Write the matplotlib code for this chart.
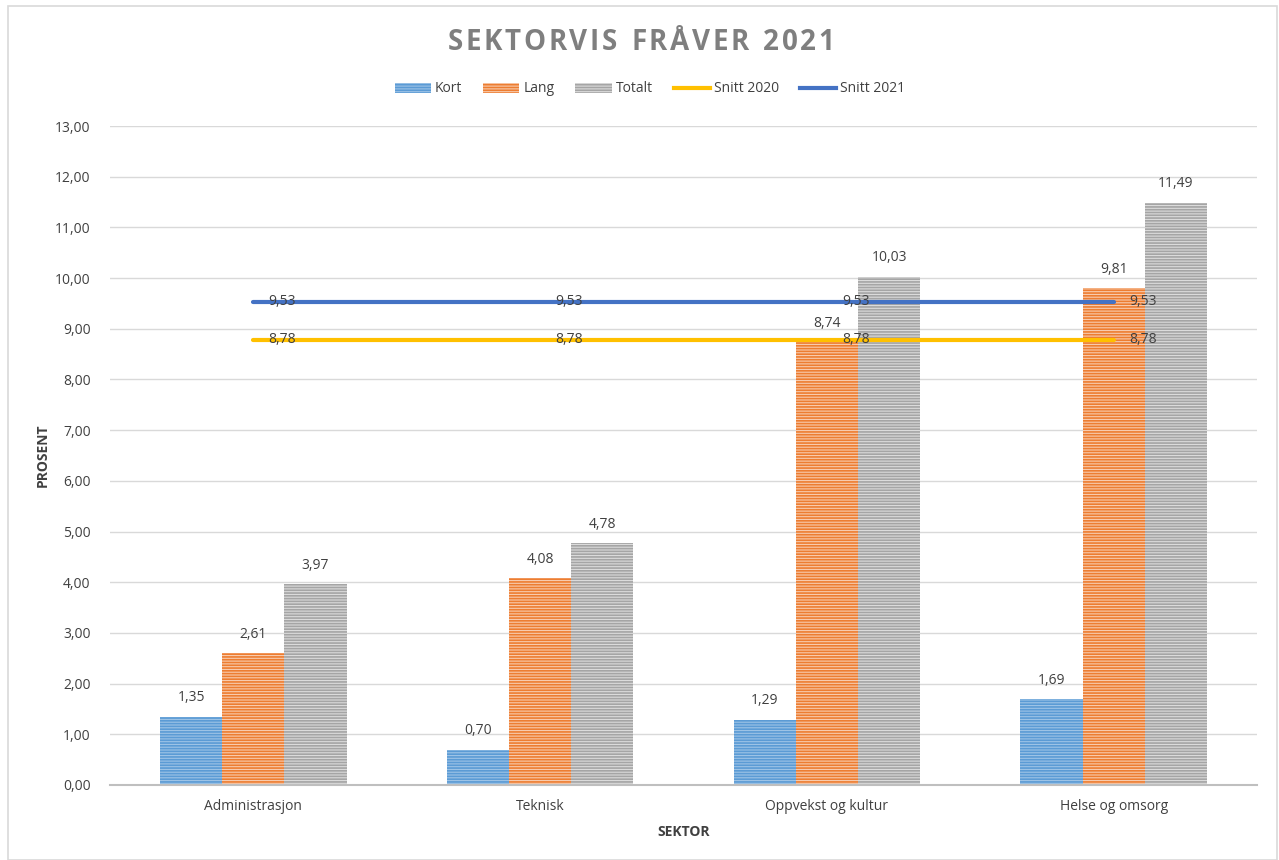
import matplotlib
matplotlib.use("Agg")
import matplotlib.pyplot as plt
import numpy as np
from matplotlib.patches import Rectangle, Patch
from matplotlib.lines import Line2D

categories = ["Administrasjon", "Teknisk", "Oppvekst og kultur", "Helse og omsorg"]
kort = [1.35, 0.70, 1.29, 1.69]
lang = [2.61, 4.08, 8.74, 9.81]
totalt = [3.97, 4.78, 10.03, 11.49]
snitt2020 = [8.78, 8.78, 8.78, 8.78]
snitt2021 = [9.53, 9.53, 9.53, 9.53]
title = "SEKTORVIS FRÅVER 2021"

plt.rcParams['font.family'] = ['Open Sans', 'DejaVu Sans']
plt.rcParams['hatch.linewidth'] = 1.2

W, H = 1279, 860
fig = plt.figure(figsize=(W / 100, H / 100), dpi=100)
ax = fig.add_axes([110/W, 75/H, (1257-110)/W, (785-126)/H])

# figure border
fig.patches.append(Rectangle((8/W, 0), (1277-8)/W, 854/H,
                             transform=fig.transFigure, fill=False,
                             edgecolor='#D9D9D9', linewidth=1.2))

x = np.arange(len(categories))
w = 0.217
series = [
    ("Kort", kort, '#9DC3E6', '#5B9BD5'),
    ("Lang", lang, '#F8CBAD', '#ED7D31'),
    ("Totalt", totalt, '#DBDBDB', '#A5A5A5'),
]
txtcol = '#404040'
handles = []
for i, (name, vals, face, hatchc) in enumerate(series):
    pos = x + (i - 1) * w
    bars = ax.bar(pos, vals, width=w, color=face, edgecolor=hatchc,
                  hatch='------', linewidth=0, zorder=2)
    for p, v in zip(pos, vals):
        ax.annotate(f"{v:.2f}".replace('.', ','), (p, v), xytext=(0, 8),
                    textcoords='offset points', ha='center', va='bottom',
                    fontsize=10, color=txtcol, zorder=5)
    handles.append(Patch(facecolor=face, edgecolor=hatchc, hatch='------',
                         linewidth=0, label=name))

for name, vals, col in [("Snitt 2020", snitt2020, '#FFC000'),
                        ("Snitt 2021", snitt2021, '#4472C4')]:
    ax.plot(x, vals, color=col, linewidth=3, solid_capstyle='round', zorder=3)
    for p, v in zip(x, vals):
        ax.annotate(f"{v:.2f}".replace('.', ','), (p, v), xytext=(11, 0),
                    textcoords='offset points', ha='left', va='center',
                    fontsize=10, color=txtcol, zorder=6)
    handles.append(Line2D([0], [0], color=col, linewidth=3, label=name))

ax.set_xlim(-0.5, len(categories) - 0.5)
ax.set_ylim(0, 13)
ax.set_yticks(np.arange(0, 14, 1))
ax.set_yticklabels([f"{v:.2f}".replace('.', ',') for v in np.arange(0, 14, 1)])
ax.set_xticks(x)
ax.set_xticklabels(categories)
ax.tick_params(axis='both', length=0, labelsize=10, colors=txtcol, pad=14)
ax.tick_params(axis='x', pad=10)
ax.grid(axis='y', color='#D9D9D9', linewidth=1, zorder=0)
ax.set_axisbelow(True)
for s in ['top', 'right', 'left']:
    ax.spines[s].set_visible(False)
ax.spines['bottom'].set_color('#BFBFBF')
ax.spines['bottom'].set_linewidth(1.5)

ax.set_xlabel("SEKTOR", fontsize=10, fontweight='bold', color=txtcol, labelpad=8)
ax.set_ylabel("PROSENT", fontsize=10, fontweight='bold', color=txtcol, labelpad=4)

# letter-spaced title
renderer = fig.canvas.get_renderer()
tkw = dict(fontsize=20, fontweight='bold', color='#7F7F7F', va='center', ha='left')
spacing = 2.6  # px between characters
widths = []
for ch in title:
    t = fig.text(0, 0, ch if ch != ' ' else 'I', **tkw)
    bb = t.get_window_extent(renderer)
    widths.append(bb.width if ch != ' ' else bb.width * 1.0)
    t.remove()
total = sum(widths) + spacing * (len(title) - 1)
xs = 641 - total / 2
ty = 1 - 43 / H
for ch, cw in zip(title, widths):
    if ch != ' ':
        fig.text(xs / W, ty, ch, **tkw)
    xs += cw + spacing

fig.legend(handles=handles, loc='center', bbox_to_anchor=(650/W, 1 - 89/H),
           ncol=5, frameon=False, fontsize=10, handlelength=2.6,
           handletextpad=0.3, columnspacing=1.5, labelcolor=txtcol)

fig.savefig("out.png", dpi=100, facecolor='white')
